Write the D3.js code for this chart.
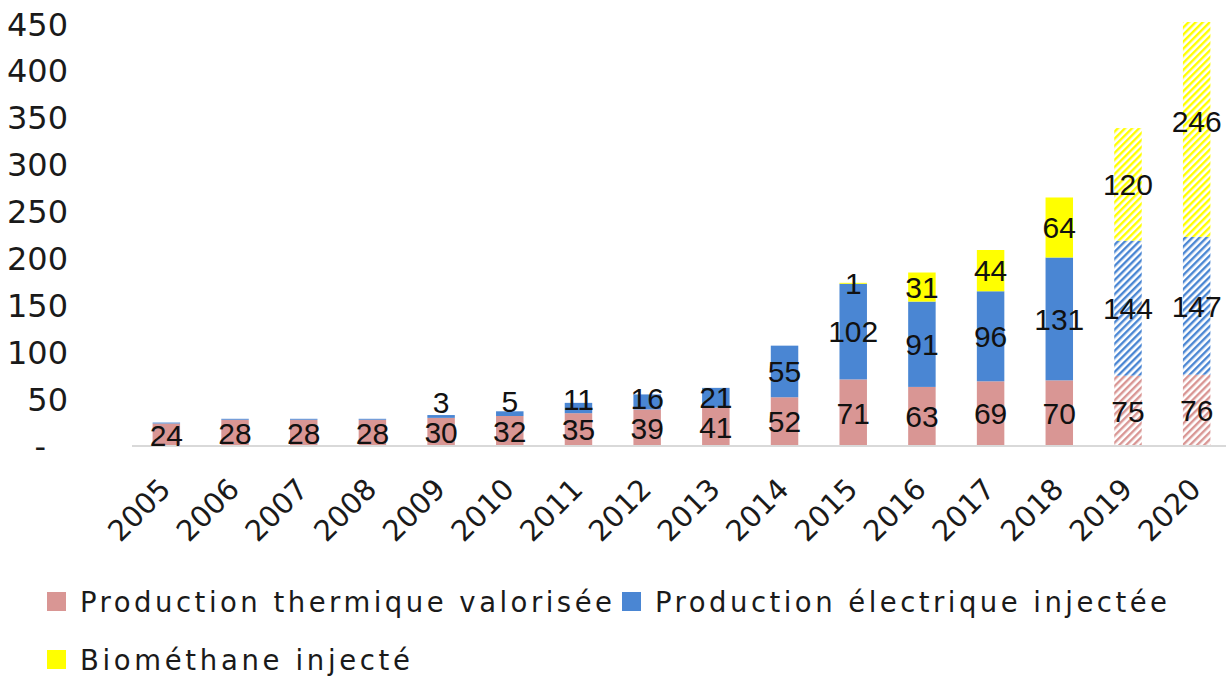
<!DOCTYPE html>
<html lang="fr">
  <head>
    <meta charset="UTF-8" />
    <title>Production de biogaz</title>
    <script src="https://d3js.org/d3.v7.min.js"></script>
    <style>
      body { margin: 0; background: #fff; }
      .tick-label { font-family: "DejaVu Sans", sans-serif; font-size: 32px; fill: #1a1a1a; }
      .x-label { font-family: "DejaVu Sans", sans-serif; font-size: 29px; fill: #1a1a1a; }
      .data-label { font-family: "Liberation Sans", Arial, sans-serif; font-size: 30px; fill: #111; }
      .legend-label { font-family: "DejaVu Sans", sans-serif; font-size: 27.5px; fill: #1a1a1a; }
    </style>
  </head>
  <body>
    <svg id="canvas" width="1226" height="686"></svg>

    <script>
      // données (GWh)
      const years = ["2005", "2006", "2007", "2008", "2009", "2010", "2011", "2012",
                     "2013", "2014", "2015", "2016", "2017", "2018", "2019", "2020"];
      const thermique = [24, 28, 28, 28, 30, 32, 35, 39, 41, 52, 71, 63, 69, 70, 75, 76];
      const electrique = [1, 1, 1, 1, 3, 5, 11, 16, 21, 55, 102, 91, 96, 131, 144, 147];
      const biomethane = [0, 0, 0, 0, 0, 0, 0, 0, 0, 0, 1, 31, 44, 64, 120, 246];
      const hatchedYears = ["2019", "2020"];
      const hiddenElecLabels = ["2005", "2006", "2007", "2008"];
      const yTicks = [0, 50, 100, 150, 200, 250, 300, 350, 400, 450];

      const series = [
        { key: "thermique", name: "Production thermique valorisée", color: "#d99694", values: thermique },
        { key: "electrique", name: "Production électrique injectée", color: "#4a86d3", values: electrique },
        { key: "biomethane", name: "Biométhane injecté", color: "#ffff00", values: biomethane },
      ];

      const table = years.map((y, i) => {
        const row = { year: y };
        series.forEach((s) => (row[s.key] = s.values[i]));
        return row;
      });

      const svg = d3.select("#canvas");

      const x = d3.scaleBand().domain(years).range([132, 1231]).paddingInner(0.6).paddingOuter(0.3);
      const y = d3.scaleLinear().domain([0, 450]).range([446, 24]);

      // motifs hachurés pour les années prévisionnelles
      const defs = svg.append("defs");
      series.forEach((s) => {
        const p = defs.append("pattern")
          .attr("id", "hatch-" + s.key)
          .attr("patternUnits", "userSpaceOnUse")
          .attr("width", 5)
          .attr("height", 5)
          .attr("patternTransform", "rotate(45)");
        p.append("rect").attr("width", 5).attr("height", 5).attr("fill", "#fff");
        p.append("rect").attr("width", 2.4).attr("height", 5).attr("fill", s.color);
      });
      defs.append("clipPath").attr("id", "plot-clip")
        .append("rect").attr("x", 0).attr("y", y(452)).attr("width", 1226).attr("height", 686);

      // axe des ordonnées (libellés seulement, format comptable : 0 -> "-")
      svg.append("g")
        .selectAll("text")
        .data(yTicks)
        .enter()
        .append("text")
        .attr("class", "tick-label")
        .attr("x", 68)
        .attr("dx", (d) => (d === 0 ? -22 : 0))
        .attr("y", (d) => y(d))
        .attr("dy", "0.36em")
        .attr("text-anchor", "end")
        .text((d) => (d === 0 ? "-" : d));

      // barres empilées
      const stack = d3.stack().keys(series.map((s) => s.key));
      const stacked = stack(table);

      const bars = svg.append("g").attr("clip-path", "url(#plot-clip)");
      stacked.forEach((layer, li) => {
        const s = series[li];
        bars.selectAll(".bar-" + s.key)
          .data(layer)
          .enter()
          .append("rect")
          .attr("class", "bar-" + s.key)
          .attr("x", (d) => x(d.data.year))
          .attr("width", x.bandwidth())
          .attr("y", (d) => y(d[1]))
          .attr("height", (d) => y(d[0]) - y(d[1]))
          .attr("fill", (d) => hatchedYears.includes(d.data.year) ? "url(#hatch-" + s.key + ")" : s.color);
      });

      // axe des abscisses
      svg.append("line")
        .attr("x1", 132).attr("x2", 1226)
        .attr("y1", y(0)).attr("y2", y(0))
        .attr("stroke", "#d9d9d9")
        .attr("stroke-width", 2);

      svg.append("g")
        .selectAll("text")
        .data(years)
        .enter()
        .append("text")
        .attr("class", "x-label")
        .attr("text-anchor", "end")
        .attr("transform", (d) => `translate(${x(d) + x.bandwidth() / 2 + 6},${y(0) + 45}) rotate(-45)`)
        .text((d) => d);

      // étiquettes de données, décalées si elles se chevauchent
      const labels = [];
      years.forEach((yr, i) => {
        let prev = null;
        stacked.forEach((layer, li) => {
          const s = series[li];
          const d = layer[i];
          const v = d[1] - d[0];
          if (v === 0) return;
          if (s.key === "electrique" && hiddenElecLabels.includes(yr)) return;
          let cy = y((d[0] + d[1]) / 2);
          if (prev !== null) cy = Math.min(cy, prev - 30);
          prev = cy;
          labels.push({ year: yr, value: v, cy });
        });
      });

      svg.append("g")
        .selectAll("text")
        .data(labels)
        .enter()
        .append("text")
        .attr("class", "data-label")
        .attr("text-anchor", "middle")
        .attr("x", (d) => x(d.year) + x.bandwidth() / 2)
        .attr("y", (d) => d.cy)
        .attr("dy", "0.36em")
        .text((d) => d.value);

      // légende
      const legendPos = [
        { x: 47, y: 612, len: 532 },
        { x: 622, y: 612, len: 512 },
        { x: 47, y: 670, len: 330 },
      ];
      const legend = svg.append("g")
        .selectAll("g")
        .data(series)
        .enter()
        .append("g")
        .attr("transform", (d, i) => `translate(${legendPos[i].x},${legendPos[i].y})`);
      legend.append("rect")
        .attr("x", 0).attr("y", -20)
        .attr("width", 19).attr("height", 19)
        .attr("fill", (d) => d.color);
      legend.append("text")
        .attr("class", "legend-label")
        .attr("x", 33)
        .attr("y", 0)
        .attr("textLength", (d, i) => legendPos[i].len)
        .attr("lengthAdjust", "spacing")
        .text((d) => d.name);
    </script>
  </body>
</html>
